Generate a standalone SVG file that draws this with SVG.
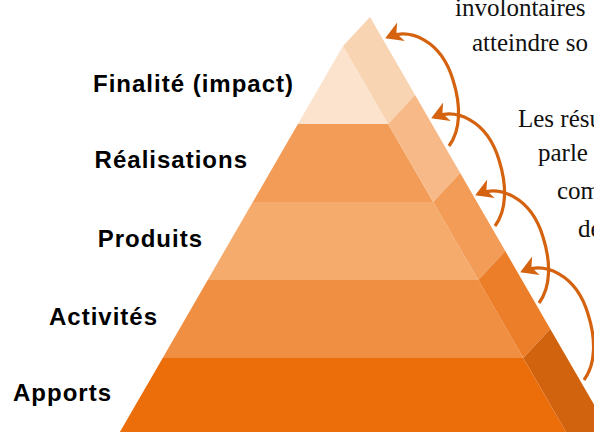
<svg xmlns="http://www.w3.org/2000/svg" width="594" height="432" viewBox="0 0 594 432">
<style>
.lbl{font-family:"Liberation Sans",Arial,sans-serif;font-weight:bold;font-size:24px;letter-spacing:1px;fill:#000;text-anchor:end}
.para{font-family:"Liberation Serif","Times New Roman",serif;font-size:25px;fill:#111}
.arr{fill:none;stroke:#d4620e;stroke-width:3.2;marker-start:url(#ah)}
</style>
<defs>
<marker id="ah" markerUnits="userSpaceOnUse" markerWidth="24" markerHeight="24" viewBox="-19 -12 24 24" refX="-3" refY="0" orient="auto-start-reverse" overflow="visible">
<path d="M0,0 L-17,-10 L-12,0 L-17,10 Z" fill="#d4620e"/>
</marker>
</defs>
<rect width="594" height="432" fill="#fff"/>
<g id="tier-finalite">
<polygon points="343,46 388.1,124 297.9,124" fill="#fce3cd"/>
<polygon points="343,46 370,17 415.1,95 388.1,124" fill="#f9d4b3"/>
<text class="lbl" x="294" y="92">Finalité (impact)</text>
</g>
<g id="tier-realisations">
<polygon points="297.9,124 388.1,124 433.2,202 252.8,202" fill="#f29c57"/>
<polygon points="388.1,124 415.1,95 460.2,173 433.2,202" fill="#f7b987"/>
<text class="lbl" x="248" y="168">Réalisations</text>
</g>
<g id="tier-produits">
<polygon points="252.8,202 433.2,202 478.3,280 207.7,280" fill="#f5ab6c"/>
<polygon points="433.2,202 460.2,173 505.3,251 478.3,280" fill="#f29c57"/>
<text class="lbl" x="203" y="247">Produits</text>
</g>
<g id="tier-activites">
<polygon points="207.7,280 478.3,280 523.3,358 162.7,358" fill="#f08f42"/>
<polygon points="478.3,280 505.3,251 550.3,329 523.3,358" fill="#ec7e29"/>
<text class="lbl" x="158" y="325">Activités</text>
</g>
<g id="tier-apports">
<polygon points="162.7,358 523.3,358 566.1,432 119.9,432" fill="#ec6e0b"/>
<polygon points="523.3,358 550.3,329 594,404.5 594,432 566.1,432" fill="#d2630e"/>
<text class="lbl" x="112" y="401">Apports</text>
</g>
<g id="connectors">
<path class="arr" d="M388,37 C410,28 441,40 453,80 C461,105 461,130 449,146"/>
<path class="arr" d="M434,117 C456,108 487,120 499,160 C507,185 507,210 495,226"/>
<path class="arr" d="M478,194 C500,185 531,197 543,237 C551,262 551,287 539,303"/>
<path class="arr" d="M523,271 C545,262 576,274 588,314 C596,339 596,364 584,380"/>
</g>
<g id="paragraph">
<text class="para" x="455" y="16">involontaires</text>
<text class="para" x="472" y="51">atteindre so</text>
<text class="para" x="518" y="127">Les résu</text>
<text class="para" x="538" y="161">parle</text>
<text class="para" x="557" y="199">com</text>
<text class="para" x="578" y="237">de</text>
</g>
</svg>
